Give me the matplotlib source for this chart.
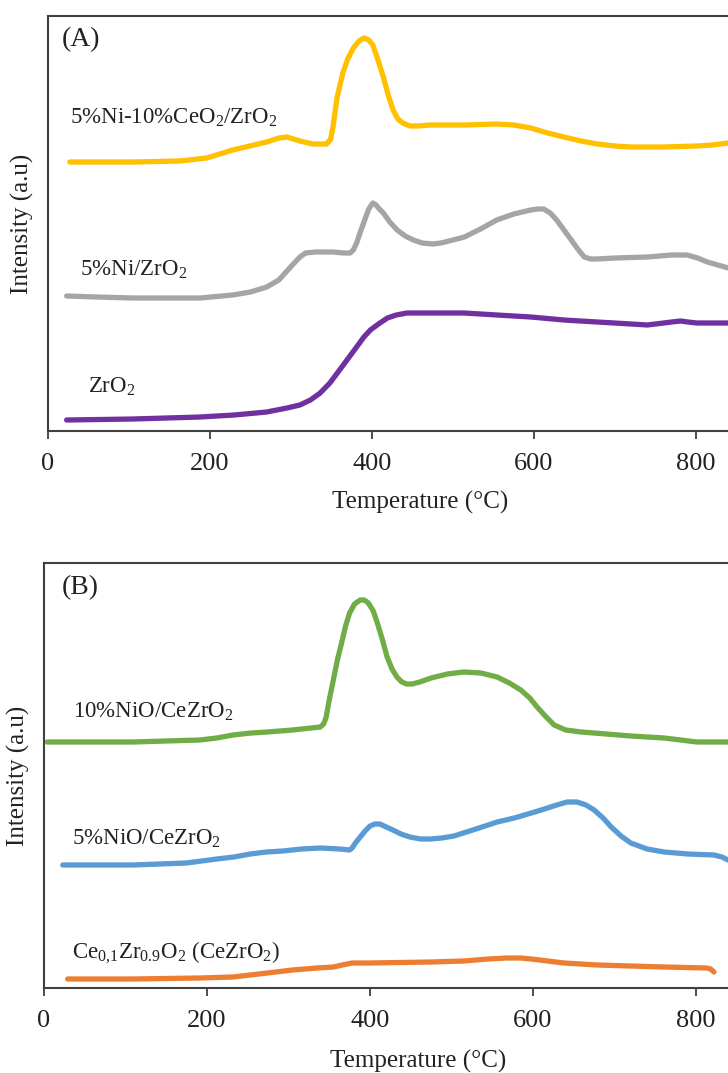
import matplotlib
matplotlib.use("Agg")
import matplotlib.pyplot as plt

plt.rcParams['font.family'] = ['Liberation Serif', 'DejaVu Serif']
plt.rcParams['mathtext.fontset'] = 'custom'
plt.rcParams['mathtext.rm'] = 'Liberation Serif'
plt.rcParams['mathtext.it'] = 'Liberation Serif:italic'
plt.rcParams['mathtext.bf'] = 'Liberation Serif:bold'

# ---------------- Panel A data ----------------
a_ni_ce_T = [27, 105, 163, 196, 228, 270, 285, 295, 303, 311, 327, 344, 349, 352, 357, 364,
             370, 377, 384, 390, 396, 401, 407, 414, 420, 426, 432, 438, 447, 456, 472, 514,
             554, 575, 596, 617, 637, 658, 678, 700, 720, 760, 801, 820, 840]
a_ni_ce_I = [269, 269, 270, 273, 281, 289, 293, 294, 292, 290, 287, 287, 292, 305, 334, 358,
             372, 383, 390, 393, 391, 386, 372, 354, 336, 321, 312, 308, 305, 305, 306, 306,
             307, 306, 303, 298, 294, 290, 287, 285, 284, 284, 285, 286, 288]

a_ni_T = [23, 60, 105, 188, 228, 250, 270, 285, 295, 304, 311, 318, 330, 352, 365, 373,
          377, 381, 386, 391, 396, 401, 405, 409, 414, 422, 431, 441, 451, 462, 475, 485,
          500, 514, 534, 554, 575, 596, 604, 612, 620, 628, 637, 646, 654, 662, 670, 678,
          700, 740, 770, 789, 802, 814, 827, 840]
a_ni_I = [135, 134, 133, 133, 136, 139, 144, 151, 160, 168, 174, 178, 179, 179, 178, 178,
          181, 188, 200, 211, 222, 228, 226, 222, 218, 209, 201, 195, 191, 188, 187, 188,
          191, 194, 202, 211, 217, 221, 222, 222, 218, 211, 201, 191, 182, 174, 172, 172,
          173, 174, 176, 176, 173, 169, 166, 163]

a_zr_T = [23, 105, 188, 230, 270, 295, 311, 324, 336, 348, 360, 370, 381, 390, 398, 408,
          419, 430, 443, 472, 514, 554, 596, 637, 678, 720, 740, 750, 760, 770, 781, 790,
          801, 840]
a_zr_I = [11, 12, 14, 16, 19, 23, 26, 31, 38, 48, 61, 72, 84, 94, 101, 107,
          113, 116, 118, 118, 118, 116, 114, 111, 109, 107, 106, 107, 108, 109, 110, 109,
          108, 108]

# ---------------- Panel B data ----------------
b_ni10_T = [4, 109, 191, 212, 232, 254, 274, 305, 339, 343, 346, 350, 355, 360, 366, 370,
            375, 381, 388, 393, 398, 404, 409, 415, 421, 427, 433, 439, 445, 452, 461, 475,
            495, 515, 536, 556, 571, 585, 596, 605, 615, 626, 640, 659, 690, 720, 761, 781,
            801, 839]
b_ni10_I = [246, 246, 248, 250, 253, 255, 256, 258, 261, 264, 270, 288, 308, 328, 348, 362,
            375, 384, 388, 388, 385, 377, 365, 349, 331, 319, 311, 306, 304, 304, 306, 310,
            314, 316, 315, 311, 305, 298, 290, 281, 272, 263, 258, 256, 254, 252, 250, 248,
            246, 246]

b_ni5_T = [23, 109, 175, 212, 233, 253, 273, 293, 316, 339, 363, 375, 378, 383, 388, 394,
           400, 406, 412, 420, 428, 438, 449, 462, 474, 488, 503, 530, 556, 577, 598, 614,
           629, 642, 654, 665, 675, 686, 696, 708, 720, 740, 761, 790, 822, 832, 839]
b_ni5_I = [123, 123, 125, 129, 131, 134, 136, 137, 139, 140, 139, 138, 140, 146, 151, 157,
           162, 164, 164, 161, 158, 154, 151, 149, 149, 150, 152, 159, 166, 170, 175, 179,
           183, 186, 186, 183, 178, 170, 161, 152, 145, 139, 136, 134, 133, 131, 128]

b_cezr_T = [29, 109, 191, 232, 253, 274, 305, 335, 355, 366, 378, 400, 475, 515, 545, 568,
            585, 598, 618, 638, 679, 761, 813, 818, 822]
b_cezr_I = [9, 9, 10, 11, 13, 15, 18, 20, 21, 23, 25, 25, 26, 27, 29, 30,
            30, 29, 27, 25, 23, 21, 20, 19, 16]

xticks = [0, 200, 400, 600, 800]

labels_A = ['5%Ni-10%CeO$_2$/ZrO$_2$', '5%Ni/ZrO$_2$', 'ZrO$_2$']
labels_B = ['10%NiO/CeZrO$_2$', '5%NiO/CeZrO$_2$', 'Ce$_{0{,}1}$Zr$_{0.9}$O$_2$ (CeZrO$_2$)']

colors_A = ['#FFC000', '#A5A5A5', '#7030A0']
colors_B = ['#70AD47', '#5B9BD5', '#ED7D31']

W, H = 728, 1073
fig = plt.figure(figsize=(W / 100, H / 100), dpi=100)


def make_axes(left_px, top_px, bottom_px, width_px):
    return fig.add_axes([left_px / W, (H - bottom_px) / H, width_px / W,
                         (bottom_px - top_px) / H])


axA = make_axes(48, 16, 431, 810)
axB = make_axes(44, 563, 988, 815)


def style(ax, ymax, label_y):
    ax.set_xlim(0, 1000)
    ax.set_ylim(0, ymax)
    ax.set_xticks(xticks)
    ax.set_yticks([])
    for s in ['top', 'left', 'bottom']:
        ax.spines[s].set_color('#404040')
        ax.spines[s].set_linewidth(1.5)
    ax.spines['right'].set_visible(False)
    ax.tick_params(axis='x', direction='out', length=6, width=1.3, color='#404040',
                   labelsize=19, pad=10, labelcolor='#222222')
    ax.set_ylabel('Intensity (a.u)', fontsize=18, color='#222222', labelpad=10)
    ax.set_xlabel('Temperature (°C)', fontsize=18, color='#222222', va='center')
    ax.xaxis.set_label_coords(0.459, label_y)


style(axA, 415, -0.173)
style(axB, 425, -0.174)

lw = 3.8
kw = dict(lw=lw, solid_joinstyle='round', solid_capstyle='round')
axA.plot(a_ni_ce_T, a_ni_ce_I, color=colors_A[0], **kw)
axA.plot(a_ni_T, a_ni_I, color=colors_A[1], **kw)
axA.plot(a_zr_T, a_zr_I, color=colors_A[2], **kw)

axB.plot(b_ni10_T, b_ni10_I, color=colors_B[0], **kw)
axB.plot(b_ni5_T, b_ni5_I, color=colors_B[1], **kw)
axB.plot(b_cezr_T, b_cezr_I, color=colors_B[2], **kw)


def fig_text(x_px, y_px, s, size):
    fig.text(x_px / W, 1 - y_px / H, s, fontsize=size, ha='left', va='center', color='#222222')


fig_text(62, 40, '(A)', 20)
fig_text(70, 118, labels_A[0], 16.5)
fig_text(80, 270, labels_A[1], 16.5)
fig_text(88, 387, labels_A[2], 16.5)

fig_text(62, 588, '(B)', 20)
fig_text(73, 712, labels_B[0], 16.5)
fig_text(72, 839, labels_B[1], 16.5)
fig_text(72, 953, labels_B[2], 16.5)

fig.savefig('out.png', dpi=100)
